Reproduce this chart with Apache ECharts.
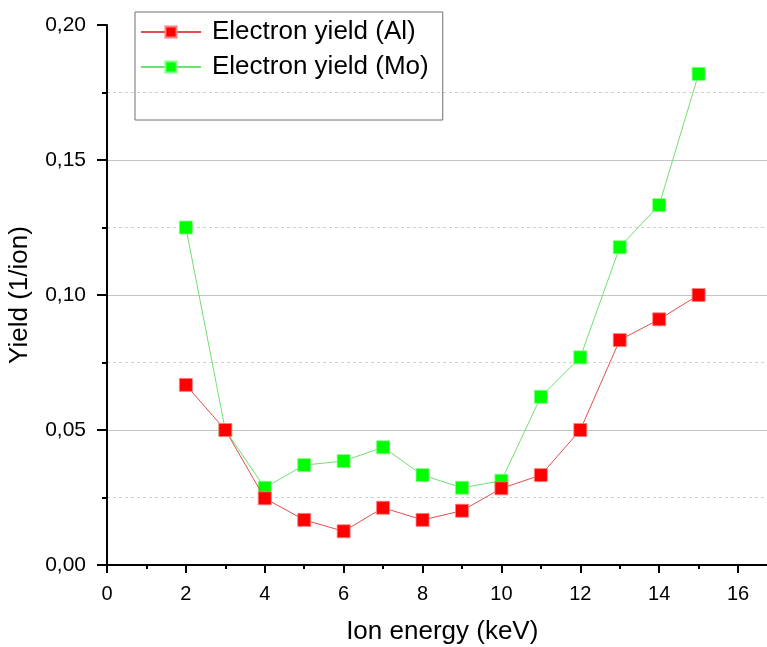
<!DOCTYPE html>
<html>
<head>
<meta charset="utf-8">
<script src="https://cdn.jsdelivr.net/npm/echarts@6/dist/echarts.min.js"></script>
<style>html,body{margin:0;padding:0;background:#fff;}#c{width:767px;height:647px;}</style>
</head>
<body>
<div id="c"></div>
<script>
const energies = [2, 3, 4, 5, 6, 7, 8, 9, 10, 11, 12, 13, 14, 15];
const yieldAl = [0.0667, 0.05, 0.0247, 0.0167, 0.0125, 0.0212, 0.0167, 0.0201, 0.0284, 0.0333, 0.05, 0.0833, 0.091, 0.1];
const yieldMo = [0.125, 0.05, 0.0286, 0.037, 0.0385, 0.0436, 0.0333, 0.0286, 0.0312, 0.0623, 0.0769, 0.1177, 0.1333, 0.1819];
const seriesNames = ['Electron yield (Al)', 'Electron yield (Mo)'];

const font = 'Arial, "Liberation Sans", sans-serif';
const chart = echarts.init(document.getElementById('c'), null, {renderer: 'canvas'});

function pairs(xs, ys) { return xs.map((x, i) => [x, ys[i]]); }

chart.setOption({
  animation: false,
  backgroundColor: '#ffffff',
  grid: {left: 107, top: 25, bottom: 82, right: -10.5, containLabel: false, outerBoundsMode: 'none'},
  legend: {
    left: 135, top: 12,
    orient: 'vertical',
    padding: [7, 14, 40, 5],
    borderColor: '#707070', borderWidth: 1,
    itemWidth: 60, itemHeight: 14, itemGap: 9,
    textStyle: {fontFamily: font, fontSize: 26, color: '#000', padding: [0, 0, 0, 6]},
    data: seriesNames
  },
  xAxis: {
    type: 'value', min: 0, max: 17, interval: 2,
    name: 'Ion energy (keV)', nameLocation: 'middle', nameGap: 54,
    nameTextStyle: {fontFamily: font, fontSize: 26, color: '#000'},
    axisLine: {onZero: false, lineStyle: {color: '#000', width: 2}},
    axisTick: {inside: false, length: 8, lineStyle: {color: '#000', width: 2}},
    minorTick: {show: true, splitNumber: 2, length: 4, lineStyle: {color: '#000', width: 2}},
    axisLabel: {fontFamily: font, fontSize: 20, color: '#000', margin: 19, showMaxLabel: false},
    splitLine: {show: false}
  },
  yAxis: {
    type: 'value', min: 0, max: 0.2, interval: 0.05,
    name: 'Yield (1/ion)', nameLocation: 'middle', nameGap: 74, nameRotate: 90,
    nameTextStyle: {fontFamily: font, fontSize: 26, color: '#000'},
    axisLine: {show: true, lineStyle: {color: '#000', width: 2}},
    axisTick: {show: true, inside: false, length: 10, lineStyle: {color: '#000', width: 2}},
    minorTick: {show: true, splitNumber: 2, length: 5, lineStyle: {color: '#000', width: 2}},
    axisLabel: {fontFamily: font, fontSize: 21, color: '#000', margin: 21,
      formatter: v => v.toFixed(2).replace('.', ',')},
    splitLine: {show: true, showMaxLine: false, lineStyle: {color: '#c4c4c4', width: 1.2}},
    minorSplitLine: {show: true, lineStyle: {color: '#cfcfcf', width: 1, type: [3, 3]}}
  },
  series: [
    {
      name: seriesNames[0], type: 'line', data: pairs(energies, yieldAl),
      symbol: 'rect', symbolSize: 13,
      itemStyle: {color: '#ff0000', borderColor: '#ff8080', borderWidth: 0.8},
      lineStyle: {color: '#e05050', width: 1}, z: 3
    },
    {
      name: seriesNames[1], type: 'line', data: pairs(energies, yieldMo),
      symbol: 'rect', symbolSize: 13,
      itemStyle: {color: '#00ff00', borderColor: '#80ff80', borderWidth: 0.8},
      lineStyle: {color: '#70e070', width: 1}, z: 2
    }
  ]
});
</script>
</body>
</html>
